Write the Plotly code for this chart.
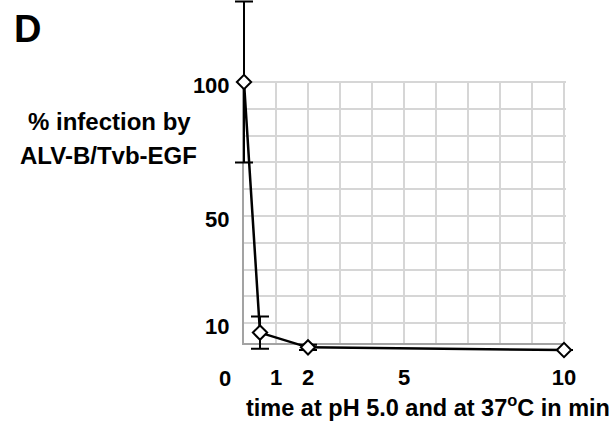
import plotly.graph_objects as go

# ---- data ----
time_min = [0, 0.5, 2, 10]
infection_pct = [100, 6.5, 1, 0]
infection_err = [30, 6, 1, 0]

x_tick_vals = [1, 2, 5, 10]
x_tick_text = ["1", "2", "5", "10"]
y_tick_vals = [10, 50, 100]
y_tick_text = ["10", "50", "100"]

# ---- geometry (pixels) ----
W, H = 609, 423
X0_PX, PX_PER_MIN = 244, 32.0      # x of t=0, scale
Y100_PX, PX_PER_PCT = 82, 2.68     # y of 100 %, scale
GRID_X = (0, 10.06)
GRID_Y = (2.61, 100.4)

def xpx(v):
    return X0_PX + v * PX_PER_MIN

def ypx(v):
    return Y100_PX + (100 - v) * PX_PER_PCT

FONT = "Liberation Sans, Arial, Helvetica, sans-serif"
GRID_COLOR = "#d6d6d6"
AXIS_COLOR = "#a3a3a3"

fig = go.Figure()

# empty trace so the grid subplot (x, y) exists
fig.add_trace(go.Scatter(x=[], y=[], xaxis="x", yaxis="y",
                         showlegend=False, hoverinfo="skip"))

fig.add_trace(go.Scatter(
    x=time_min, y=infection_pct,
    xaxis="x2", yaxis="y2",
    mode="lines+markers",
    line=dict(color="black", width=2.5),
    marker=dict(symbol="diamond", size=11, color="white",
                line=dict(color="black", width=2)),
    error_y=dict(type="data", array=infection_err, color="black",
                 thickness=2, width=9),
    cliponaxis=False,
    showlegend=False,
))

# data axes covering the whole figure, same scale as the grid axes
x2_range = [-xpx(0) / PX_PER_MIN, (W - xpx(0)) / PX_PER_MIN]
y2_range = [100 - (H - ypx(100)) / PX_PER_PCT, 100 + ypx(100) / PX_PER_PCT]

tickfont = dict(family=FONT, size=22, color="black", weight="bold")

fig.update_layout(
    template="none",
    width=W, height=H, autosize=False,
    margin=dict(l=0, r=0, t=0, b=0, pad=0, autoexpand=False),
    paper_bgcolor="white", plot_bgcolor="rgba(0,0,0,0)",
    xaxis=dict(
        domain=[xpx(GRID_X[0]) / W, xpx(GRID_X[1]) / W],
        range=list(GRID_X), anchor="y", automargin=False,
        showline=True, linecolor=AXIS_COLOR, linewidth=2,
        showgrid=True, gridcolor=GRID_COLOR, gridwidth=1.5,
        minor=dict(tick0=0, dtick=1, showgrid=True,
                   gridcolor=GRID_COLOR, gridwidth=1.5),
        tickmode="array", tickvals=x_tick_vals, ticktext=x_tick_text,
        ticks="", zeroline=False, tickfont=tickfont,
        ticklabelstandoff=14, fixedrange=True,
    ),
    yaxis=dict(
        domain=[1 - ypx(GRID_Y[0]) / H, 1 - ypx(GRID_Y[1]) / H],
        range=list(GRID_Y), anchor="x", automargin=False,
        showline=True, linecolor=AXIS_COLOR, linewidth=2,
        showgrid=True, gridcolor=GRID_COLOR, gridwidth=1.5,
        minor=dict(tick0=0, dtick=10, showgrid=True,
                   gridcolor=GRID_COLOR, gridwidth=1.5),
        tickmode="array", tickvals=y_tick_vals, ticktext=y_tick_text,
        ticks="", zeroline=False, tickfont=tickfont,
        ticklabelstandoff=8, ticklabelshift=3, fixedrange=True,
    ),
    xaxis2=dict(domain=[0, 1], range=x2_range, anchor="y2", visible=False,
                automargin=False, fixedrange=True),
    yaxis2=dict(domain=[0, 1], range=y2_range, anchor="x2", visible=False,
                automargin=False, fixedrange=True),
)

def ann(text, xp, yp, size, xanchor="center"):
    fig.add_annotation(
        text=text, xref="paper", yref="paper",
        x=xp / W, y=1 - yp / H, xanchor=xanchor, yanchor="middle",
        showarrow=False,
        font=dict(family=FONT, size=size, color="black", weight="bold"),
    )

ann("D", 27, 29, 38)
ann("% infection by", 109, 122, 24)
ann("ALV-B/Tvb-EGF", 108, 155, 24)
ann("0", 225, 378, 22)
ann("time at pH 5.0 and at 37<sup>o</sup>C in min", 244, 406, 23.5,
    xanchor="left")

fig.write_html(
    "out.html",
    config={"displayModeBar": False},
    post_script="document.body.style.margin='0';",
)
